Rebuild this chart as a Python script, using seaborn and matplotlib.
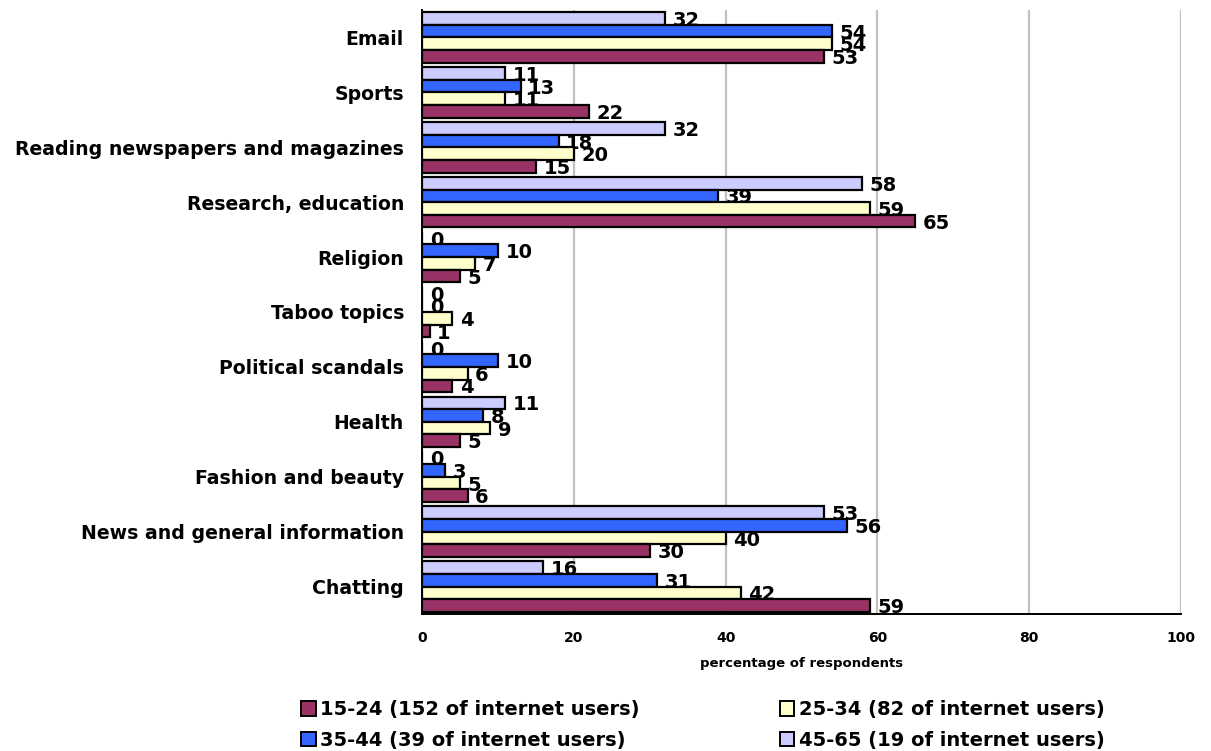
import matplotlib
matplotlib.use("Agg")
import matplotlib.pyplot as plt
from matplotlib.patches import Patch
from matplotlib.ticker import FixedLocator
import pandas as pd
import seaborn as sns

categories = ["Email", "Sports", "Reading newspapers and magazines", "Research, education",
              "Religion", "Taboo topics", "Political scandals", "Health",
              "Fashion and beauty", "News and general information", "Chatting"]

age_15_24 = [53, 22, 15, 65, 5, 1, 4, 5, 6, 30, 59]
age_25_34 = [54, 11, 20, 59, 7, 4, 6, 9, 5, 40, 42]
age_35_44 = [54, 13, 18, 39, 10, 0, 10, 8, 3, 56, 31]
age_45_65 = [32, 11, 32, 58, 0, 0, 0, 11, 0, 53, 16]

groups = ["15-24 (152 of internet users)", "25-34 (82 of internet users)",
          "35-44 (39 of internet users)", "45-65 (19 of internet users)"]
colors = ["#993366", "#FFFFCC", "#3366FF", "#CCCCFF"]

x_ticks = [0, 20, 40, 60, 80, 100]
x_label = "percentage of respondents"

series = [age_15_24, age_25_34, age_35_44, age_45_65]
rows = []
for g, vals in zip(groups, series):
    for c, v in zip(categories, vals):
        rows.append({"category": c, "group": g, "value": v})
df = pd.DataFrame(rows)

sns.set_style("white")
plt.rcParams["font.family"] = ["DejaVu Sans"]
plt.rcParams["font.weight"] = "bold"
for key in ["text.color", "axes.labelcolor", "xtick.color", "ytick.color"]:
    plt.rcParams[key] = "black"

fig = plt.figure(figsize=(12.11, 7.51), dpi=100)
ax = fig.add_axes([422 / 1211, 1 - 614 / 751, (1181 - 422) / 1211, (614 - 10) / 751])

# top-to-bottom order within each category: oldest group first
hue_order = groups[::-1]
palette = dict(zip(groups, colors))
sns.barplot(data=df, y="category", x="value", hue="group", hue_order=hue_order,
            order=categories, orient="h", palette=palette, width=0.92,
            edgecolor="black", linewidth=1.6, saturation=1, legend=False,
            ax=ax, zorder=3)

# value labels, drawn beneath the bars
for container, g in zip(ax.containers, hue_order):
    vals = series[groups.index(g)]
    for bar, v in zip(container.patches, vals):
        yc = bar.get_y() + bar.get_height() / 2
        ax.annotate(f"{v}", xy=(v, yc), xytext=(5.5, -1.5), textcoords="offset points",
                    ha="left", va="center", fontsize=14, fontweight="bold",
                    color="black", zorder=2.5, annotation_clip=False)

ax.set_xlim(0, 100)
ax.set_ylim(len(categories) - 0.5, -0.5)
ax.set_xticks(x_ticks)
ax.set_xticklabels([str(t) for t in x_ticks], fontsize=10, fontweight="bold")
ax.set_xlabel(x_label, fontsize=9.5, fontweight="bold", labelpad=9)
ax.set_ylabel("")
ax.set_yticks(range(len(categories)))
ax.set_yticklabels(categories, fontsize=13.6, fontweight="bold")
ax.tick_params(axis="y", which="major", length=0, pad=13)
ax.yaxis.set_minor_locator(FixedLocator([i - 0.5 for i in range(len(categories) + 1)]))
ax.tick_params(axis="y", which="minor", length=6, width=1.3, color="black", direction="out")
ax.tick_params(axis="x", which="major", length=6, width=1.3, color="black", direction="out", pad=6)

ax.grid(axis="x", color="#C0C0C0", linewidth=1.6, zorder=0)
ax.grid(axis="y", visible=False)
ax.set_axisbelow(True)
for side in ["top", "right"]:
    ax.spines[side].set_visible(False)
for side in ["left", "bottom"]:
    ax.spines[side].set_color("black")
    ax.spines[side].set_linewidth(1.4)

# legend rows: 15-24, 25-34 / 35-44, 45-65
order = [0, 2, 1, 3]
handles = [Patch(facecolor=colors[i], edgecolor="black", linewidth=1.4, label=groups[i]) for i in order]
fig.legend(handles=handles, loc="center", bbox_to_anchor=(703 / 1211, 1 - 725 / 751), ncol=2,
           frameon=False, prop={"weight": "bold", "size": 14},
           handlelength=0.75, handleheight=0.75, handletextpad=0.25, columnspacing=7.2,
           labelspacing=0.6)

fig.savefig("out.png", dpi=100)
